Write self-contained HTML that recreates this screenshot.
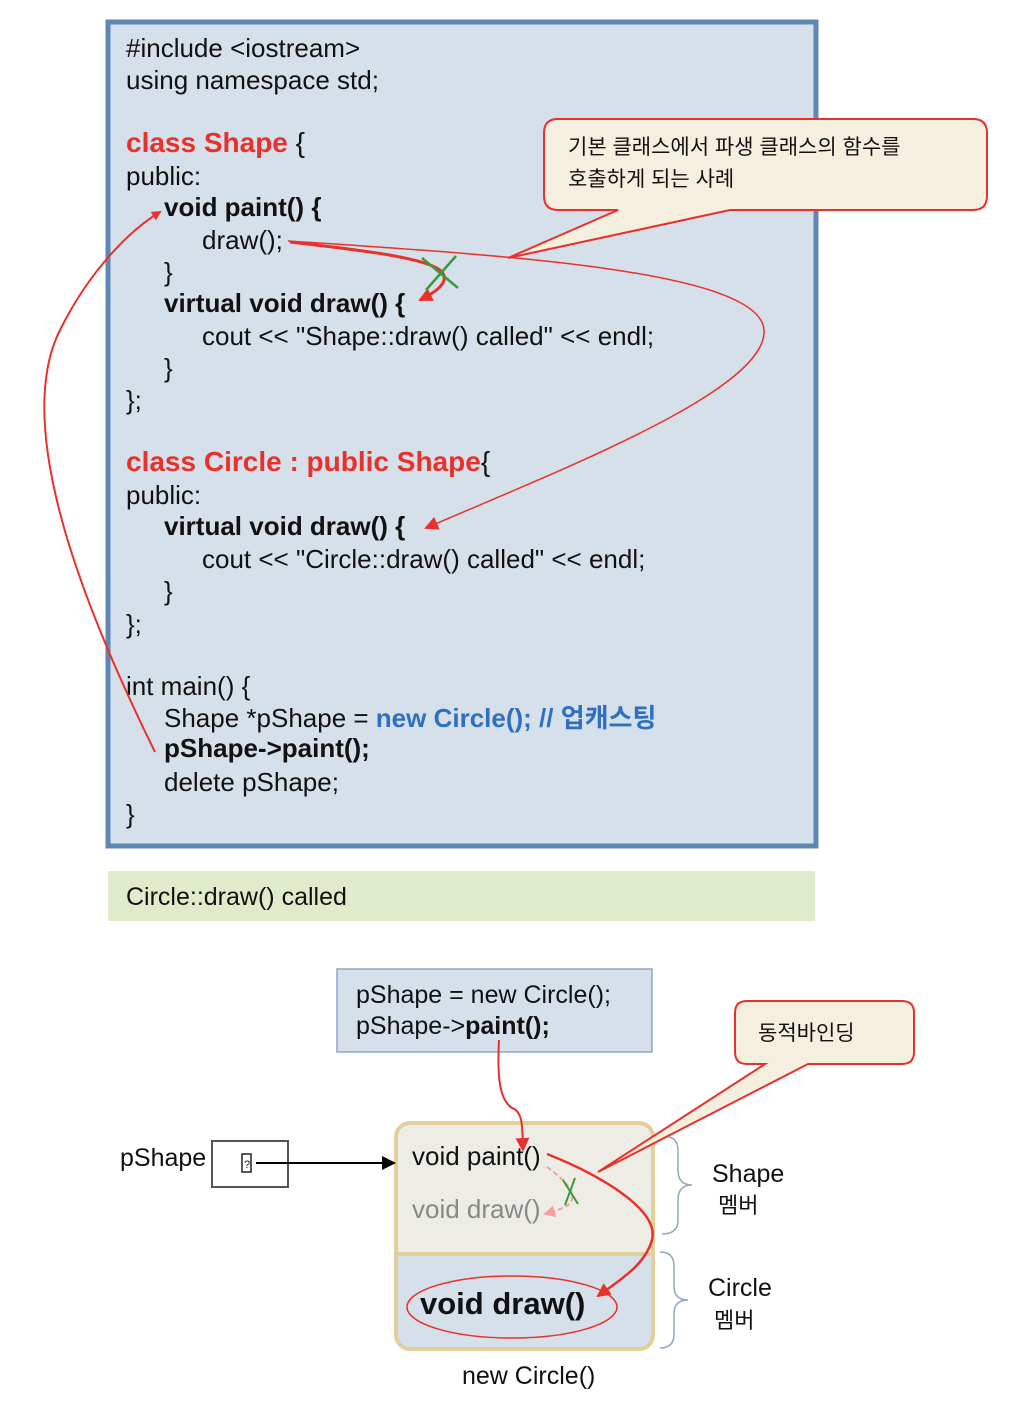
<!DOCTYPE html>
<html><head><meta charset="utf-8"><style>
html,body{margin:0;padding:0;background:#fff;}
svg text{font-family:"Liberation Sans","Noto Sans CJK KR",sans-serif;}
</style></head><body>
<svg width="1012" height="1410" viewBox="0 0 1012 1410" xmlns="http://www.w3.org/2000/svg">
<defs>
<marker id="ah" markerWidth="10" markerHeight="10" refX="8" refY="5" orient="auto" markerUnits="userSpaceOnUse"><path d="M0,0 L10,5 L0,10 z" fill="#e8312a"/></marker>
<marker id="ahb" markerWidth="14" markerHeight="14" refX="12" refY="7" orient="auto" markerUnits="userSpaceOnUse"><path d="M0,0 L14,7 L0,14 z" fill="#e8312a"/></marker>
<marker id="ahp" markerWidth="12" markerHeight="12" refX="10" refY="6" orient="auto" markerUnits="userSpaceOnUse"><path d="M0,0 L12,6 L0,12 z" fill="#f2a0a0"/></marker>
<marker id="ahk" markerWidth="14" markerHeight="14" refX="12" refY="7" orient="auto" markerUnits="userSpaceOnUse"><path d="M0,0 L14,7 L0,14 z" fill="#000"/></marker>
</defs>
<rect x="108" y="22" width="708" height="824" fill="#d6e0ea" stroke="#5f87b5" stroke-width="5"/>
<g font-size="26" fill="#111">
<text x="126" y="57">#include &lt;iostream&gt;</text>
<text x="126" y="89">using namespace std;</text>
<text x="126" y="152" font-weight="bold" fill="#e8312a" font-size="28">class Shape <tspan fill="#111" font-weight="normal">{</tspan></text>
<text x="126" y="185">public:</text>
<text x="164" y="216" font-weight="bold">void paint() {</text>
<text x="202" y="249">draw();</text>
<text x="164" y="281">}</text>
<text x="164" y="312" font-weight="bold">virtual void draw() {</text>
<text x="202" y="345">cout &lt;&lt; "Shape::draw() called" &lt;&lt; endl;</text>
<text x="164" y="377">}</text>
<text x="126" y="409">};</text>
<text x="126" y="471" font-weight="bold" fill="#e8312a" font-size="28">class Circle : public Shape<tspan fill="#111" font-weight="normal">{</tspan></text>
<text x="126" y="504">public:</text>
<text x="164" y="535" font-weight="bold">virtual void draw() {</text>
<text x="202" y="568">cout &lt;&lt; "Circle::draw() called" &lt;&lt; endl;</text>
<text x="164" y="600">}</text>
<text x="126" y="633">};</text>
<text x="126" y="695">int main() {</text>
<text x="164" y="727">Shape *pShape = <tspan fill="#2f6fbf" font-weight="bold">new Circle(); // 업캐스팅</tspan></text>
<text x="164" y="757" font-weight="bold">pShape-&gt;paint();</text>
<text x="164" y="791">delete pShape;</text>
<text x="126" y="823">}</text>
</g>
<path d="M558,119 H973 Q987,119 987,133 V196 Q987,210 973,210 H730 L508,258 L618,210 H558 Q544,210 544,196 V133 Q544,119 558,119 Z" fill="#f5efdf" stroke="#e8312a" stroke-width="2"/>
<text x="568" y="154" font-size="21" fill="#111">기본 클래스에서 파생 클래스의 함수를</text>
<text x="568" y="186" font-size="21" fill="#111">호출하게 되는 사례</text>
<path d="M155,752 C90,620 10,430 60,330 C90,270 130,230 160,212" fill="none" stroke="#e8312a" stroke-width="2" marker-end="url(#ah)"/>
<path d="M288,241 C500,255 760,270 764,330 C768,390 560,470 426,528" fill="none" stroke="#e8312a" stroke-width="1.5" marker-end="url(#ahb)"/>
<path d="M290,242 C360,250 430,258 442,272 C450,282 436,292 420,300" fill="none" stroke="#e8312a" stroke-width="3" marker-end="url(#ahb)"/>
<path d="M422,258 L458,288 M456,256 L426,290" stroke="#3b9a3b" stroke-width="2.5"/>
<rect x="108" y="871" width="707" height="50" fill="#e0ebcb"/>
<text x="126" y="905" font-size="25" fill="#111">Circle::draw() called</text>
<rect x="337" y="969" width="315" height="83" fill="#d6e0ea" stroke="#8fa6c7" stroke-width="1.5"/>
<text x="356" y="1003" font-size="25" fill="#111">pShape = new Circle();</text>
<text x="356" y="1034" font-size="25" fill="#111">pShape-&gt;<tspan font-weight="bold">paint();</tspan></text>
<path d="M409,1123 H639 Q653,1123 653,1137 V1254 H396 V1137 Q396,1123 409,1123 Z" fill="#ededE6"/>
<path d="M396,1254 H653 V1336 Q653,1349 639,1349 H409 Q396,1349 396,1336 Z" fill="#d6e0ea"/>
<rect x="396" y="1123" width="257" height="226" rx="14" fill="none" stroke="#e2cf9c" stroke-width="4"/>
<line x1="396" y1="1254" x2="653" y2="1254" stroke="#e2cf9c" stroke-width="4"/>
<text x="412" y="1165" font-size="26" fill="#111">void paint()</text>
<text x="412" y="1218" font-size="26" fill="#888">void draw()</text>
<ellipse cx="512" cy="1307" rx="105" ry="31" fill="none" stroke="#e8312a" stroke-width="1.5"/>
<text x="420" y="1314" font-size="31" font-weight="bold" fill="#111">void draw()</text>
<text x="462" y="1384" font-size="25" fill="#111">new Circle()</text>
<text x="120" y="1166" font-size="25" fill="#111">pShape</text>
<rect x="212" y="1141" width="76" height="46" fill="#fff" stroke="#555" stroke-width="2"/>
<rect x="242" y="1154" width="9" height="18" fill="none" stroke="#222" stroke-width="1.5"/>
<text x="244" y="1168" font-size="11" fill="#222">?</text>
<line x1="256" y1="1163" x2="394" y2="1163" stroke="#000" stroke-width="2" marker-end="url(#ahk)"/>
<path d="M662,1136 Q678,1136 678,1150 V1170 Q678,1185 692,1185 Q678,1185 678,1200 V1220 Q678,1234 662,1234" fill="none" stroke="#8fa6c7" stroke-width="1.5"/>
<path d="M660,1252 Q674,1252 674,1266 V1286 Q674,1300 688,1300 Q674,1300 674,1314 V1334 Q674,1348 660,1348" fill="none" stroke="#8fa6c7" stroke-width="1.5"/>
<text x="712" y="1182" font-size="25" fill="#111">Shape</text>
<text x="718" y="1213" font-size="22" fill="#111">멤버</text>
<text x="708" y="1296" font-size="25" fill="#111">Circle</text>
<text x="714" y="1328" font-size="22" fill="#111">멤버</text>
<path d="M747,1001 H902 Q914,1001 914,1013 V1052 Q914,1064 902,1064 H808 L598,1172 L765,1064 H747 Q735,1064 735,1052 V1013 Q735,1001 747,1001 Z" fill="#f5efdf" stroke="#e8312a" stroke-width="2"/>
<text x="758" y="1040" font-size="21" fill="#111">동적바인딩</text>
<path d="M499,1040 C497,1080 500,1100 512,1108 C524,1112 522,1130 523,1150" fill="none" stroke="#e8312a" stroke-width="2" marker-end="url(#ahb)"/>
<path d="M547,1154 C600,1175 660,1210 652,1240 C645,1265 620,1280 598,1296" fill="none" stroke="#e8312a" stroke-width="2.5" marker-end="url(#ahb)"/>
<path d="M547,1167 C565,1180 580,1195 568,1205 C560,1210 552,1212 545,1214" fill="none" stroke="#f2a0a0" stroke-width="2" stroke-dasharray="5,3" marker-end="url(#ahp)"/>
<path d="M563,1180 L578,1204 M575,1178 L565,1205" stroke="#3b9a3b" stroke-width="2"/>
</svg>
</body></html>
